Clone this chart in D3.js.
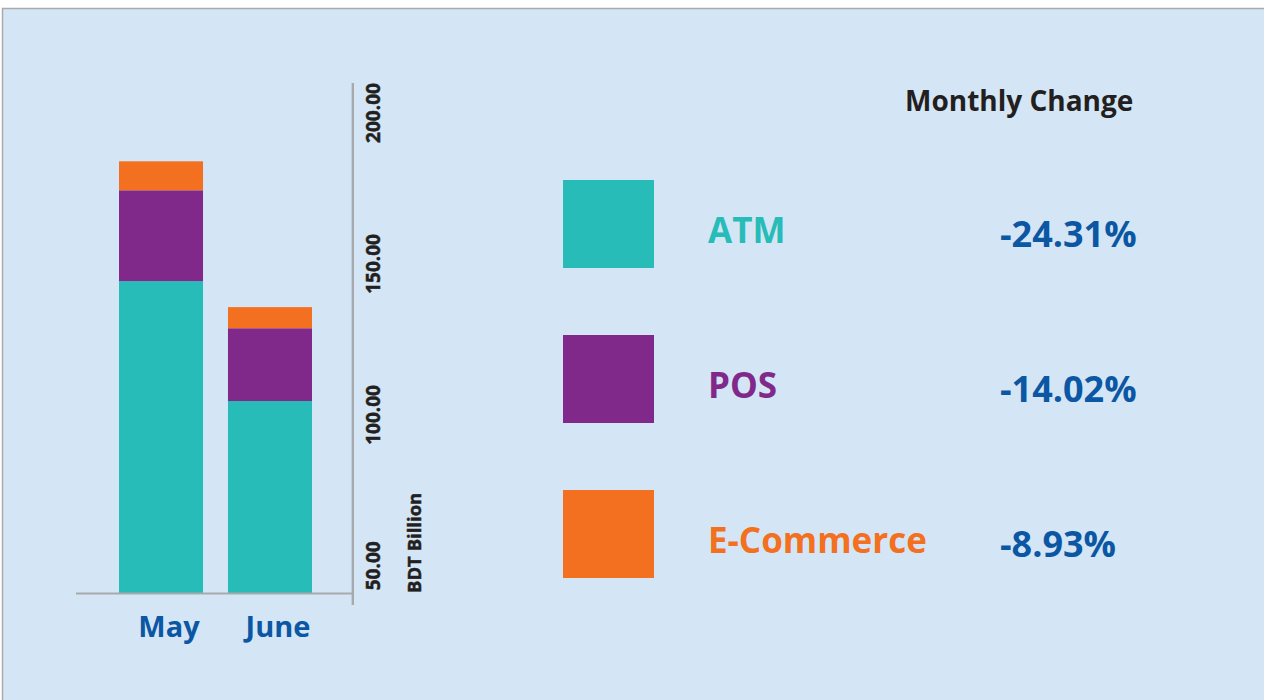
<!DOCTYPE html>
<html>
<head>
<meta charset="utf-8">
<title>ATM, POS and E-Commerce transactions</title>
<script src="https://d3js.org/d3.v7.min.js"></script>
<style>
  body { margin: 0; background: #fff; }
  svg { display: block; font-family: "Open Sans", "Noto Sans", sans-serif; font-weight: 700; }
</style>
</head>
<body>
<svg width="1264" height="700"></svg>
<script>
// data (BDT Billion)
const months = ["May", "June"];
const series = ["ATM", "POS", "E-Commerce"];
const atm = [143.3, 103.6];
const pos = [30.1, 24.1];
const ecom = [9.6, 7.0];
const changes = ["-24.31%", "-14.02%", "-8.93%"];
const yTicks = [50, 100, 150, 200];

const colors = ["#27bcb8", "#80298b", "#f37021"];
const blue = "#0b57a4";

const svg = d3.select("svg");

// panel
svg.append("rect")
  .attr("x", 2.5).attr("y", 8.5)
  .attr("width", 1300).attr("height", 720)
  .attr("fill", "#d4e6f5")
  .attr("stroke", "#aaaaaa")
  .attr("stroke-width", 1.5);

const table = months.map((m, i) => ({ month: m, "ATM": atm[i], "POS": pos[i], "E-Commerce": ecom[i] }));
const stacked = d3.stack().keys(series)(table);

const x = d3.scaleBand().domain(months).range([119, 312]).paddingInner(0.229);
const y = d3.scaleLinear().domain([40, 200]).range([593, 110]).clamp(true);
const color = d3.scaleOrdinal().domain(series).range(colors);

// bars
svg.append("g").selectAll("g")
  .data(stacked)
  .join("g")
    .attr("fill", d => color(d.key))
  .selectAll("rect")
  .data(d => d)
  .join("rect")
    .attr("x", d => x(d.data.month))
    .attr("width", x.bandwidth())
    .attr("y", d => y(d[1]))
    .attr("height", d => y(d[0]) - y(d[1]));

// axis lines
svg.append("line")
  .attr("x1", 76).attr("x2", 353)
  .attr("y1", 593.5).attr("y2", 593.5)
  .attr("stroke", "#a7a9ac").attr("stroke-width", 2.2);
svg.append("line")
  .attr("x1", 352.8).attr("x2", 352.8)
  .attr("y1", 83).attr("y2", 605)
  .attr("stroke", "#a7a9ac").attr("stroke-width", 2.4);

// rotated tick labels
svg.append("g").selectAll("text")
  .data(yTicks)
  .join("text")
    .attr("transform", d => `translate(380,${y(d) + 3}) rotate(-90)`)
    .attr("text-anchor", "middle")
    .attr("font-size", 19)
    .attr("fill", "#231f20")
    .attr("stroke", "#231f20")
    .attr("stroke-width", 0.5)
    .text(d3.format(".2f"));

svg.append("text")
  .attr("transform", `translate(421,${y(40)}) rotate(-90)`)
  .attr("font-size", 18.5)
  .attr("fill", "#231f20")
  .attr("stroke", "#231f20")
  .attr("stroke-width", 0.5)
  .text("BDT Billion");

// month labels
svg.append("g").selectAll("text")
  .data(months)
  .join("text")
    .attr("x", d => x(d) + x.bandwidth() / 2 + 8)
    .attr("y", 637)
    .attr("text-anchor", "middle")
    .attr("font-size", 29)
    .attr("fill", blue)
    .text(d => d);

// legend with monthly change
svg.append("text")
  .attr("x", 905).attr("y", 111)
  .attr("font-size", 28)
  .attr("fill", "#231f20")
  .text("Monthly Change");

const ly = d3.scalePoint().domain(series).range([180, 490]);
const legend = svg.append("g").selectAll("g")
  .data(series)
  .join("g")
    .attr("transform", d => `translate(0,${ly(d)})`);

legend.append("rect")
  .attr("x", 563).attr("y", 0)
  .attr("width", 91).attr("height", 88)
  .attr("fill", d => color(d));

legend.append("text")
  .attr("x", 708).attr("y", 63)
  .attr("font-size", 35)
  .attr("fill", d => color(d))
  .text(d => d);

legend.append("text")
  .attr("x", 1000).attr("y", 67)
  .attr("font-size", 36)
  .attr("fill", blue)
  .text((d, i) => changes[i]);
</script>
</body>
</html>
